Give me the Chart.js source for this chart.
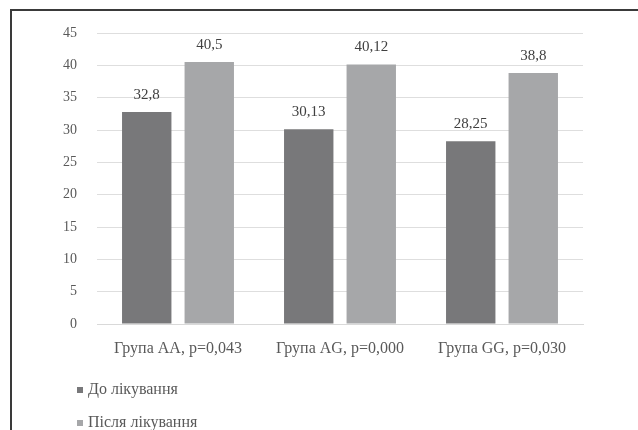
<!DOCTYPE html>
<html>
<head>
<meta charset="utf-8">
<script src="https://cdn.jsdelivr.net/npm/chart.js@4.4.0/dist/chart.umd.min.js"></script>
<style>
  html, body { margin: 0; padding: 0; background: #ffffff; }
  #wrap { position: relative; width: 638px; height: 430px; overflow: hidden; }
  #frame { position: absolute; left: 10px; top: 9px; right: -5px; bottom: -5px;
           border-top: 2px solid #3a3a3a; border-left: 2px solid #3a3a3a; pointer-events: none; }
  canvas { position: absolute; left: 0; top: 0; }
</style>
</head>
<body>
<div id="wrap">
  <canvas id="c" width="638" height="430"></canvas>
  <div id="frame"></div>
</div>
<script>
const categories = ["Група AA, p=0,043", "Група AG, p=0,000", "Група GG, p=0,030"];
const seriesNames = ["До лікування", "Після лікування"];
const beforeValues = [32.8, 30.13, 28.25];
const afterValues = [40.5, 40.12, 38.8];
const beforeLabels = ["32,8", "30,13", "28,25"];
const afterLabels = ["40,5", "40,12", "38,8"];
const yTicks = [0, 5, 10, 15, 20, 25, 30, 35, 40, 45];

const FONT = "'Liberation Serif', 'Times New Roman', serif";
const TEXT = "#595959";
const colors = ["#78787a", "#a6a7a9"];

const valueLabels = {
  id: 'valueLabels',
  afterDatasetsDraw(chart) {
    const ctx = chart.ctx;
    const lists = [beforeLabels, afterLabels];
    ctx.save();
    ctx.font = "15px " + FONT;
    ctx.fillStyle = "#404040";
    ctx.textAlign = "center";
    ctx.textBaseline = "middle";
    chart.data.datasets.forEach((ds, di) => {
      chart.getDatasetMeta(di).data.forEach((bar, i) => {
        ctx.fillText(lists[di][i], bar.x, bar.y - 17);
      });
    });
    ctx.restore();
  }
};

const customLegend = {
  id: 'customLegend',
  afterDraw(chart) {
    const ctx = chart.ctx;
    ctx.save();
    ctx.font = "16px " + FONT;
    ctx.textBaseline = "middle";
    ctx.textAlign = "left";
    chart.data.datasets.forEach((ds, i) => {
      const y = 390 + i * 33;
      ctx.fillStyle = ds.backgroundColor;
      ctx.fillRect(77, y - 3, 6, 6);
      ctx.fillStyle = TEXT;
      ctx.fillText(ds.label, 88, y);
    });
    ctx.restore();
  }
};

new Chart(document.getElementById('c'), {
  type: 'bar',
  data: {
    labels: categories,
    datasets: [
      { label: seriesNames[0], data: beforeValues, backgroundColor: colors[0] },
      { label: seriesNames[1], data: afterValues, backgroundColor: colors[1] }
    ]
  },
  options: {
    responsive: false,
    animation: false,
    devicePixelRatio: 1,
    layout: { padding: { left: 0, right: 55, top: 33, bottom: 0 } },
    datasets: { bar: { categoryPercentage: 0.772, barPercentage: 0.79 } },
    plugins: { legend: { display: false }, tooltip: { enabled: false } },
    scales: {
      x: {
        grid: { display: false, drawTicks: false },
        border: { display: true, color: "#d9d9d9", width: 1 },
        ticks: { color: TEXT, font: { family: FONT, size: 16 }, padding: 15, maxRotation: 0 },
        afterFit(scale) { scale.height = 106; }
      },
      y: {
        min: 0, max: 45,
        afterBuildTicks(scale) { scale.ticks = yTicks.map(v => ({ value: v })); },
        grid: { color: "#dedede", lineWidth: 1, drawTicks: false },
        border: { display: false },
        ticks: { color: TEXT, font: { family: FONT, size: 14 }, padding: 20 },
        afterFit(scale) { scale.width = 97; }
      }
    }
  },
  plugins: [valueLabels, customLegend]
});
</script>
</body>
</html>
